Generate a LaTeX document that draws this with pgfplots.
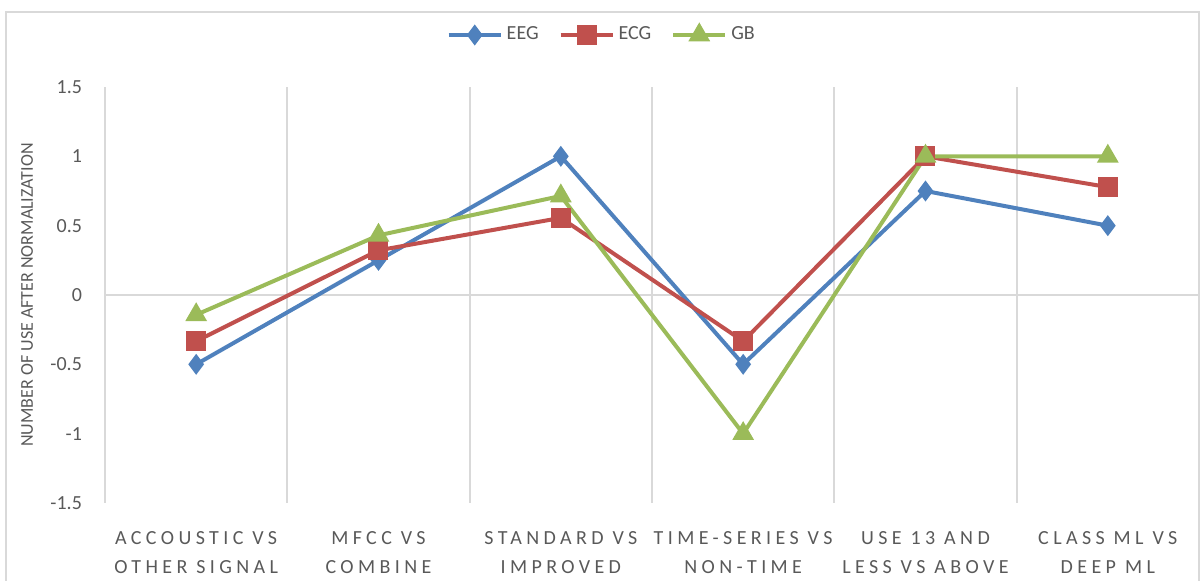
\documentclass[border=0pt]{standalone}
\usepackage{fontspec}
\setmainfont{Carlito}
\newfontfamily\spaced[LetterSpace=22]{Carlito}
\usepackage{pgfplots}
\pgfplotsset{compat=1.18}
\definecolor{eeg}{HTML}{4F81BD}
\definecolor{ecg}{HTML}{C0504D}
\definecolor{gb}{HTML}{9BBB59}
\definecolor{gridc}{HTML}{D9D9D9}
\definecolor{txt}{HTML}{595959}
\begin{document}
\begin{tikzpicture}[x=1pt,y=1pt]
\useasboundingbox (-52.5,-39) rectangle (547.5,251.5);
\draw[gridc,line width=0.7pt] (-49.5,-40) rectangle (547,245.5);
\begin{axis}[
  at={(0,0)}, anchor=south west,
  scale only axis, width=547pt, height=208pt,
  xmin=-0.5, xmax=5.5, ymin=-1.5, ymax=1.5,
  axis line style={draw=none},
  xtick={0,1,2,3,4,5},
  xticklabels={{ACCOUSTIC VS\\OTHER SIGNAL},{MFCC VS\\COMBINE},{STANDARD VS\\IMPROVED},{TIME-SERIES VS\\NON-TIME},{USE 13 AND\\LESS VS ABOVE},{CLASS ML VS\\DEEP ML}},
  xticklabel style={font=\spaced\fontsize{10}{14.5}\selectfont, text=txt, align=center, yshift=-10.5pt},
  minor xtick={-0.5,0.5,...,5.5},
  xminorgrids=true,
  minor grid style={gridc, line width=1pt},
  major tick length=0pt, minor tick length=0pt,
  ytick={-1.5,-1,...,1.5},
  yticklabel style={font=\fontsize{10}{12}\selectfont, text=txt, xshift=-8pt},
  /pgf/number format/assume math mode=true,
  extra y ticks={0}, extra y tick labels={},
  extra y tick style={grid=major, major grid style={gridc, line width=1pt}},
  ylabel={NUMBER OF USE AFTER NORMALIZATION},
  ylabel style={font=\fontsize{9}{10}\selectfont, text=txt, at={(rel axis cs:0,0.5)}, anchor=center, yshift=39pt},
  legend style={at={(rel axis cs:0.455,1.125)}, anchor=center, draw=none, legend columns=3, font=\fontsize{10}{12}\selectfont, text=txt, /tikz/every even column/.append style={column sep=8pt}},
  legend image code/.code={\draw[#1] (0pt,0pt) -- (13pt,0pt) -- (26pt,0pt); \draw[#1,only marks] plot coordinates {(13pt,0pt)};},
  every axis plot/.append style={line width=2pt},
]
\addplot[eeg, mark=diamond*, mark size=3.6pt, mark options={solid}] coordinates {(0,-0.5) (1,0.25) (2,1) (3,-0.5) (4,0.75) (5,0.5)};
\addlegendentry{EEG}
\addplot[ecg, mark=square*, mark size=4pt] coordinates {(0,-0.333) (1,0.322) (2,0.556) (3,-0.333) (4,1) (5,0.778)};
\addlegendentry{ECG}
\addplot[gb, mark=triangle*, mark size=4.3pt] coordinates {(0,-0.143) (1,0.43) (2,0.714) (3,-1) (4,1) (5,1)};
\addlegendentry{GB}
\end{axis}
\end{tikzpicture}
\end{document}
